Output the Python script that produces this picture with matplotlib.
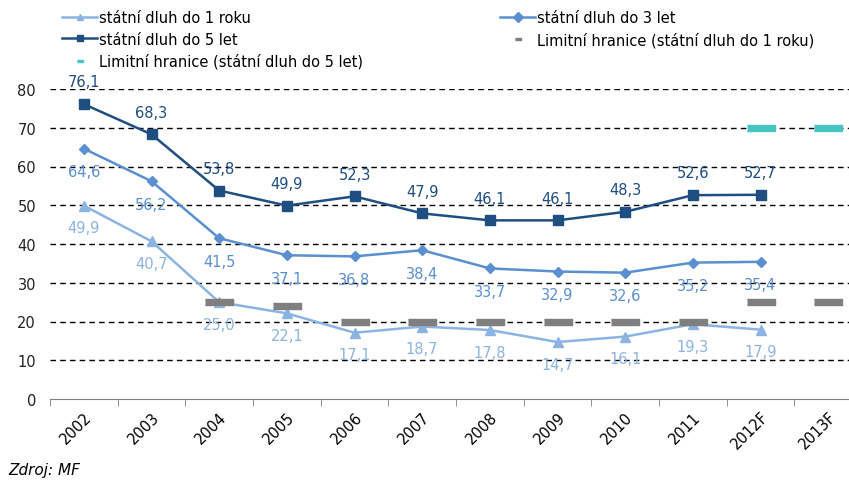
import matplotlib.pyplot as plt
import numpy as np

years = ['2002', '2003', '2004', '2005', '2006', '2007', '2008', '2009',
         '2010', '2011', '2012F', '2013F']
dluh_1 = [49.9, 40.7, 25.0, 22.1, 17.1, 18.7, 17.8, 14.7, 16.1, 19.3, 17.9, None]
dluh_3 = [64.6, 56.2, 41.5, 37.1, 36.8, 38.4, 33.7, 32.9, 32.6, 35.2, 35.4, None]
dluh_5 = [76.1, 68.3, 53.8, 49.9, 52.3, 47.9, 46.1, 46.1, 48.3, 52.6, 52.7, None]
limit_1 = [None, None, 25, 24, 20, 20, 20, 20, 20, 20, 25, 25]
limit_5 = [None] * 10 + [70, 70]

c1 = '#8cb4e2'
c3 = '#5a8fd0'
c5 = '#1f4e80'
c_lim1 = '#7f7f7f'
c_lim5 = '#4bc4c4'

def arr(v):
    return np.array([np.nan if x is None else x for x in v], dtype=float)

fig = plt.figure(figsize=(8.49, 4.81), dpi=100)
ax = fig.add_axes([50 / 849, 81 / 481, 812 / 849, 310 / 481])
x = np.arange(len(years))

l1, = ax.plot(x, arr(dluh_1), color=c1, lw=1.8, marker='^', ms=7.5, label='státní dluh do 1 roku', zorder=3)
l3, = ax.plot(x, arr(dluh_3), color=c3, lw=1.8, marker='D', ms=5.5, label='státní dluh do 3 let', zorder=3)
l5, = ax.plot(x, arr(dluh_5), color=c5, lw=1.8, marker='s', ms=7, label='státní dluh do 5 let', zorder=3)
bar = [(-1, -0.22), (1, -0.22), (1, 0.22), (-1, 0.22)]
m1, = ax.plot(x, arr(limit_1), ls='none', marker=bar, ms=20, color=c_lim1, mec=c_lim1,
              label='Limitní hranice (státní dluh do 1 roku)', zorder=4)
m5, = ax.plot(x, arr(limit_5), ls='none', marker=bar, ms=20, color=c_lim5, mec=c_lim5,
              label='Limitní hranice (státní dluh do 5 let)', zorder=4)

for vals, col, dy in [(dluh_1, c1, -16), (dluh_3, c3, -16.5), (dluh_5, c5, 16)]:
    for i, v in enumerate(vals):
        if v is None:
            continue
        ax.annotate(f'{v:.1f}'.replace('.', ','), (i, v), xytext=(0, dy),
                    textcoords='offset points', ha='center', va='center',
                    fontsize=10.5, color=col, zorder=5)

ax.set_xlim(-0.5, len(years) - 0.5)
ax.set_ylim(0, 80)
ax.set_yticks(range(0, 81, 10))
ax.set_xticks(x)
ax.set_xticklabels(years, rotation=45, fontsize=10.5)
ax.set_xticks(np.arange(-0.5, len(years), 1), minor=True)
ax.tick_params(axis='x', which='major', length=0, pad=7)
ax.tick_params(axis='x', which='minor', length=5, color='#7f7f7f')
ax.tick_params(axis='y', length=0, labelsize=10.5, pad=10, labelcolor='#222222')
for yy in range(10, 81, 10):
    ax.axhline(yy, color='black', lw=1, ls=(0, (4, 3)), zorder=1)
for s in ['top', 'right', 'left']:
    ax.spines[s].set_visible(False)
ax.spines['bottom'].set_color('#7f7f7f')
for lbl in ax.get_xticklabels():
    lbl.set_ha('right')
    lbl.set_rotation_mode('anchor')

leg_kw = dict(loc='upper left', frameon=False, fontsize=10.5, handlelength=2.4,
              labelspacing=0.45, handletextpad=0.15, borderaxespad=0, borderpad=0)
leg1 = fig.legend(handles=[l1, l5, m5], bbox_to_anchor=(62 / 849, 1 - 11 / 481), **leg_kw)
leg2 = fig.legend(handles=[l3, m1], bbox_to_anchor=(500 / 849, 1 - 11 / 481), **leg_kw)
for lg in (leg1, leg2):
    for h in lg.legend_handles:
        h.set_markersize(5)

fig.text(8 / 849, 1 - 471 / 481, 'Zdroj: MF', fontsize=11, style='italic', va='center')
fig.savefig('out.png', dpi=100)
